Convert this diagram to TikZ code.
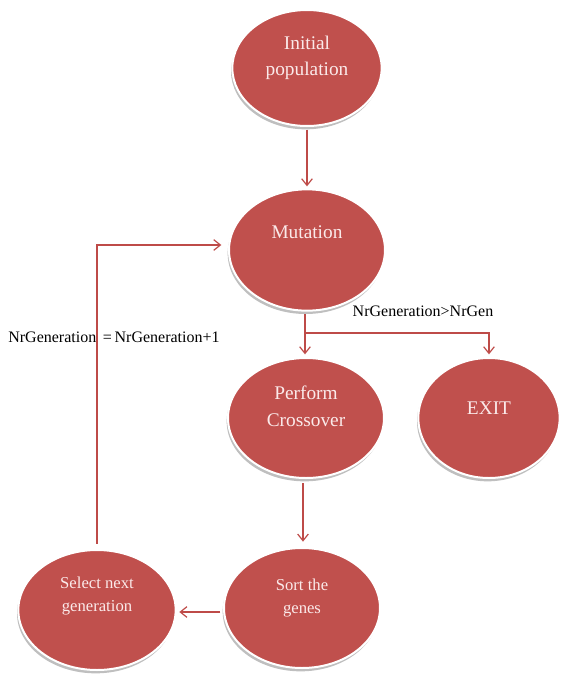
\documentclass[tikz,border=0pt]{standalone}
\usepackage{fontspec}
\setmainfont{Liberation Serif}
\usetikzlibrary{arrows.meta,shapes.geometric,shadows}
\definecolor{blobred}{HTML}{C0504D}
\definecolor{linered}{HTML}{BE4B48}
\definecolor{txtpink}{HTML}{FBEAEA}
\tikzset{
  blob/.style={ellipse, fill=blobred, draw=white, line width=1.5pt, inner sep=0pt,
    drop shadow={shadow xshift=-1pt, shadow yshift=-2.5pt, fill=black!25, opacity=1}},
  blobtext/.style={text=txtpink, font=\fontsize{14.5}{20}\selectfont, align=center},
  smalltext/.style={text=txtpink, font=\fontsize{12.5}{17}\selectfont, align=center},
  conn/.style={draw=linered, line width=0.9pt, -{Straight Barb[length=5pt,width=8pt]}},
  plainconn/.style={draw=linered, line width=0.9pt},
  lbl/.style={font=\fontsize{12}{14}\selectfont, text=black}
}
\begin{document}
\begin{tikzpicture}[x=0.75pt,y=-0.75pt]
\useasboundingbox (0,0) rectangle (566,675);
\node[blob, minimum width=112pt, minimum height=87pt] (init) at (307,68) {};
\node[blob, minimum width=117pt, minimum height=91pt] (mut) at (307,250) {};
\node[blob, minimum width=117pt, minimum height=90pt] (cross) at (306,418) {};
\node[blob, minimum width=106pt, minimum height=90pt] (exit) at (489,418) {};
\node[blob, minimum width=117pt, minimum height=90pt] (sort) at (302,608) {};
\node[blob, minimum width=118pt, minimum height=90pt] (sel) at (97,610) {};
\node[blobtext] (initT) at (307,58) {Initial\\population};
\node[blobtext] (mutT) at (307,232) {Mutation};
\node[blobtext] (crossT) at (306,406) {Perform\\Crossover};
\node[blobtext] (exitT) at (489,408) {EXIT};
\node[smalltext] (sortT) at (302,598) {Sort the\\genes};
\node[smalltext] (selT) at (97,596) {Select next\\generation};
\node[lbl] (l1) at (423,311) {NrGeneration>NrGen};
\node[lbl] (l2) at (114,337) {NrGeneration \,=\,NrGeneration+1};
\coordinate (j) at (305,333);
\draw[conn, shorten >=1.5pt, shorten <=2pt] (init.south) -- (mut.north);
\draw[plainconn, shorten <=2pt] (mut.south -| j) -- (j);
\draw[conn, shorten >=2pt] (j) -- (j |- cross.north);
\draw[conn, shorten >=2pt] (j) -| (exit.north);
\draw[conn, shorten >=4pt, shorten <=3pt] (cross.south -| 303,0) -- (sort.north -| 303,0);
\draw[conn, shorten >=2pt, shorten <=2pt] (sort.west |- 0,612) -- (sel.east |- 0,612);
\draw[conn, shorten >=5pt, shorten <=4pt] (sel.north) |- (mut.west |- 0,245);
\end{tikzpicture}
\end{document}
